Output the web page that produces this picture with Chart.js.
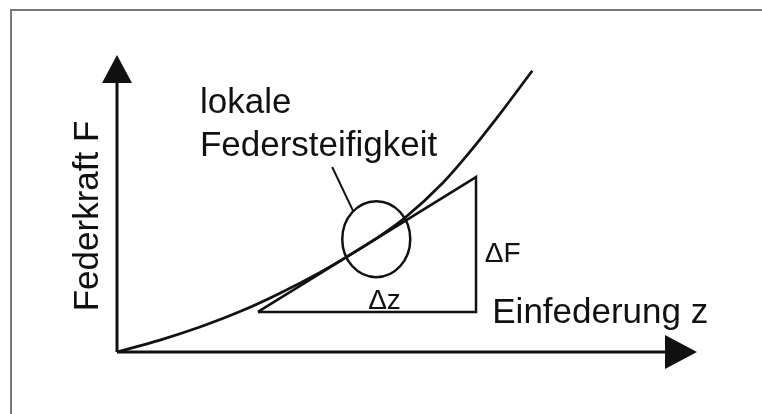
<!DOCTYPE html>
<html>
<head>
<meta charset="utf-8">
<script src="https://cdn.jsdelivr.net/npm/chart.js@4/dist/chart.umd.min.js"></script>
<style>
  html, body { margin: 0; padding: 0; background: #fff; }
  #wrap { position: relative; width: 762px; height: 414px; overflow: hidden; }
  .frame { position: absolute; left: 10px; top: 9px; right: 0; bottom: 0;
           border-top: 2px solid #777; border-left: 2px solid #777; }
  canvas { position: absolute; left: 0; top: 0; }
</style>
</head>
<body>
<div id="wrap">
  <div class="frame"></div>
  <canvas id="feder" width="762" height="414"></canvas>
</div>
<script>
// Einfederung z (x) und Federkraft F (y), willkürliche Einheiten 0..10
const kurveZ = [0, 0.74, 1.43, 2.12, 2.81, 3.50, 3.93, 4.45, 4.97, 5.62, 6.03, 6.60, 7.16];
const kurveF = [0, 0.40, 0.84, 1.36, 1.98, 2.68, 3.17, 3.80, 4.53, 5.70, 6.61, 8.01, 9.47];

// Steigungsdreieck (Tangente im Arbeitspunkt)
const dreieckZ = [2.43, 6.19, 6.19, 2.43];
const dreieckF = [1.35, 5.89, 1.35, 1.35];

// Markierung "lokale Federsteifigkeit"
const kreisMitte = { z: 4.47, F: 3.80 };
const zeigerZ = [3.71, 4.07];
const zeigerF = [6.23, 4.75];

// Achsen
const achseMax = 10;

const beschriftungen = [
    { text: 'lokale', z: 1.43, F: 8.05, size: 35 },
    { text: 'Federsteifigkeit', z: 1.43, F: 6.60, size: 35 },
    { text: '\u0394F', z: 6.34, F: 3.03, size: 28 },
    { text: '\u0394z', z: 4.33, F: 1.45, size: 28 },
    { text: 'Einfederung z', z: 6.47, F: 0.98, size: 35 },
    { text: 'Federkraft F', z: -0.33, F: 4.58, size: 35, gedreht: true }
];

const schrift = '"Liberation Sans", Arial, sans-serif';
const tinte = '#111';

function punkte(xs, ys) {
    return xs.map((x, i) => ({ x: x, y: ys[i] }));
}

function linie(data, breite, extra) {
    return Object.assign({
        data: data,
        showLine: true,
        borderColor: tinte,
        borderWidth: breite,
        pointRadius: 0,
        pointHoverRadius: 0,
        fill: false,
        clip: false
    }, extra || {});
}

const skizze = {
    id: 'skizze',
    afterDatasetsDraw(chart) {
        const ctx = chart.ctx;
        const sx = chart.scales.x;
        const sy = chart.scales.y;
        ctx.save();
        ctx.fillStyle = tinte;
        ctx.strokeStyle = tinte;

        // Pfeilspitzen
        const ox = sx.getPixelForValue(0), oy = sy.getPixelForValue(0);
        const yTip = sy.getPixelForValue(achseMax);
        ctx.beginPath();
        ctx.moveTo(ox, yTip);
        ctx.lineTo(ox - 15, yTip + 28);
        ctx.lineTo(ox + 15, yTip + 28);
        ctx.closePath();
        ctx.fill();
        const xTip = sx.getPixelForValue(achseMax);
        ctx.beginPath();
        ctx.moveTo(xTip, oy);
        ctx.lineTo(xTip - 32, oy - 17);
        ctx.lineTo(xTip - 32, oy + 17);
        ctx.closePath();
        ctx.fill();

        // Ellipse um den Arbeitspunkt
        ctx.lineWidth = 2.5;
        ctx.beginPath();
        ctx.ellipse(sx.getPixelForValue(kreisMitte.z), sy.getPixelForValue(kreisMitte.F), 34, 38, 0, 0, Math.PI * 2);
        ctx.stroke();

        // Texte
        ctx.textBaseline = 'alphabetic';
        beschriftungen.forEach(b => {
            ctx.font = b.size + 'px ' + schrift;
            const px = sx.getPixelForValue(b.z);
            const py = sy.getPixelForValue(b.F);
            if (b.gedreht) {
                ctx.save();
                ctx.translate(px, py);
                ctx.rotate(-Math.PI / 2);
                ctx.textAlign = 'center';
                ctx.fillText(b.text, 0, 0);
                ctx.restore();
            } else {
                ctx.textAlign = 'left';
                ctx.fillText(b.text, px, py);
            }
        });
        ctx.restore();
    }
};

new Chart(document.getElementById('feder'), {
    type: 'scatter',
    data: {
        datasets: [
            linie(punkte([0, achseMax - 0.3], [0, 0]), 3),
            linie(punkte([0, 0], [0, achseMax - 0.5]), 3),
            linie(punkte(kurveZ, kurveF), 2.7, { cubicInterpolationMode: 'monotone' }),
            linie(punkte(dreieckZ, dreieckF), 2.5),
            linie(punkte(zeigerZ, zeigerF), 2)
        ]
    },
    options: {
        responsive: false,
        animation: false,
        events: [],
        layout: { padding: { left: 117, right: 65, top: 55, bottom: 62 } },
        scales: {
            x: { type: 'linear', min: 0, max: achseMax, display: false },
            y: { type: 'linear', min: 0, max: achseMax, display: false }
        },
        plugins: {
            legend: { display: false },
            tooltip: { enabled: false }
        }
    },
    plugins: [skizze]
});
</script>
</body>
</html>
